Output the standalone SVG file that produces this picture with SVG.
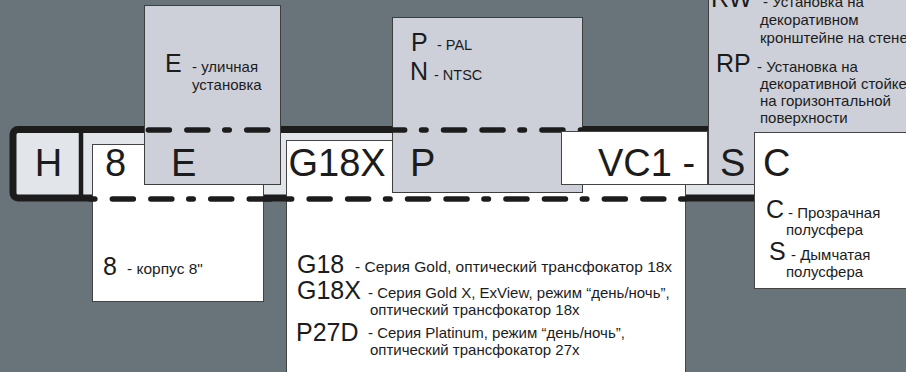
<svg xmlns="http://www.w3.org/2000/svg" width="906" height="372" viewBox="0 0 906 372">
<style>
text{font-family:"Liberation Sans",Arial,sans-serif;fill:#1c1c1c}
.big{font-size:38px}
.lbl{font-size:25px}
.t{font-size:15px}
.tl{font-size:15.5px}
.ts{font-size:14.5px}
.gbox{fill:#cdd0d8;stroke:#3e3e3e;stroke-width:1}
.wbox{fill:#ffffff;stroke:#444;stroke-width:1}
.dash{fill:none;stroke:#1c1c1c;stroke-width:5.5;stroke-linecap:round;stroke-dasharray:4.5 17.5 21 17.5 21 16.9}
</style>
<rect x="0" y="0" width="906" height="372" fill="#68737a"/>
<g id="frame">
<rect x="13" y="129.5" width="1000" height="68.5" rx="5" fill="#e2e5ea" stroke="#1c1c1c" stroke-width="7"/>
<line x1="81" y1="129.5" x2="81" y2="198" stroke="#1c1c1c" stroke-width="4.5"/>
<text class="big" x="48.5" y="176" text-anchor="middle">H</text>
</g>
<g id="node-8">
<rect class="wbox" x="92.5" y="144.5" width="171" height="157"/>
<text class="big" x="115.5" y="176" text-anchor="middle">8</text>
<text class="lbl" x="103" y="275">8</text>
<text class="tl" x="127" y="274">- корпус 8"</text>
</g>
<g id="node-g18x">
<rect class="wbox" x="286.5" y="140.5" width="399" height="240"/>
<text class="big" x="288.5" y="176">G18X</text>
<text class="lbl" x="297" y="273">G18</text>
<text class="tl" x="355" y="272">- Серия Gold, оптический трансфокатор 18x</text>
<text class="lbl" x="297" y="299">G18X</text>
<text class="t" x="368" y="298">- Серия Gold X, ExView, режим “день/ночь”,</text>
<text class="t" x="370" y="315">оптический трансфокатор 18x</text>
<text class="lbl" x="296" y="341">P27D</text>
<text class="t" x="368" y="338">- Серия Platinum, режим “день/ночь”,</text>
<text class="t" x="370" y="355">оптический трансфокатор 27x</text>
</g>
<g id="node-e">
<rect class="gbox" x="144.5" y="5.5" width="136" height="179"/>
<text class="big" x="171" y="176">E</text>
<text class="lbl" x="165" y="72">E</text>
<text class="t" x="192" y="72">- уличная</text>
<text class="t" x="192" y="90">установка</text>
</g>
<g id="node-p">
<rect class="gbox" x="392.5" y="17.5" width="190" height="175"/>
<text class="big" x="410" y="176">P</text>
<text class="lbl" x="411" y="51">P</text>
<text class="ts" x="437" y="50">- PAL</text>
<text class="lbl" x="410" y="80">N</text>
<text class="ts" x="434" y="80">- NTSC</text>
</g>
<g id="connectors">
<path class="dash" d="M126.35 130 H604"/>
<path class="dash" d="M90.35 199 H685.25"/>
</g>
<g id="node-vc1">
<rect class="wbox" x="561.5" y="131.5" width="146" height="53"/>
<text class="big" x="598" y="176">VC1 -</text>
</g>
<g id="node-s">
<rect class="gbox" x="708.5" y="-10" width="210" height="194.5"/>
<text class="big" x="720" y="176">S</text>
<text class="lbl" x="711" y="7">RW</text>
<text class="t" x="763" y="7">- Установка на</text>
<text class="t" x="760" y="25">декоративном</text>
<text class="t" x="760" y="43">кронштейне на стене</text>
<text class="lbl" x="716" y="72">RP</text>
<text class="t" x="757" y="72">- Установка на</text>
<text class="t" x="760" y="89">декоративной стойке</text>
<text class="t" x="760" y="106">на горизонтальной</text>
<text class="t" x="760" y="123">поверхности</text>
</g>
<g id="node-c">
<rect class="wbox" x="754.5" y="132.5" width="170" height="156"/>
<text class="big" x="763" y="176">C</text>
<text class="lbl" x="766" y="218">C</text>
<text class="t" x="788" y="218">- Прозрачная</text>
<text class="t" x="786" y="235">полусфера</text>
<text class="lbl" x="769" y="260">S</text>
<text class="t" x="791" y="260">- Дымчатая</text>
<text class="t" x="786" y="277">полусфера</text>
</g>
</svg>
